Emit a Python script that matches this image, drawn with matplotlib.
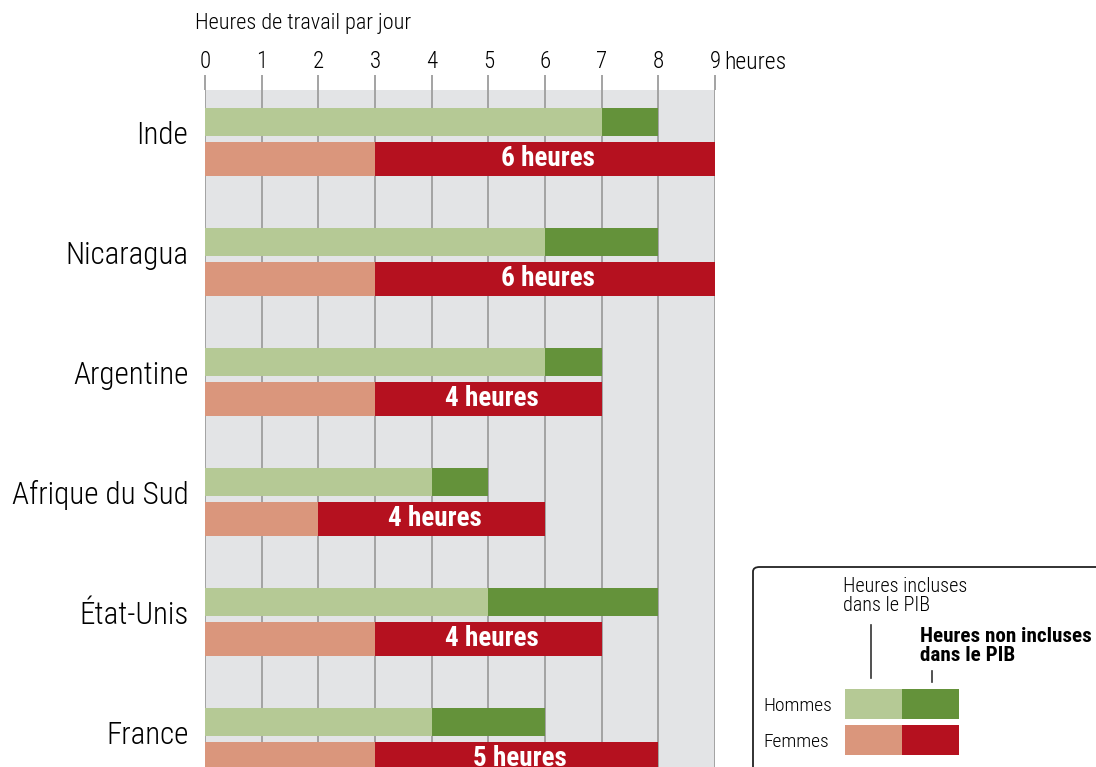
import matplotlib
matplotlib.use("Agg")
import matplotlib.pyplot as plt
from matplotlib import font_manager as fm
from matplotlib.patches import FancyBboxPatch, Rectangle
from matplotlib.lines import Line2D
import numpy as np

## ==> PICK A CONDENSED FONT
installed = set(f.name for f in fm.fontManager.ttflist)
narrow = [n for n in ["Roboto Condensed", "Archivo Narrow", "PT Sans Narrow", "Fira Sans Condensed",
                      "IBM Plex Sans Condensed", "Liberation Sans Narrow", "Open Sans Condensed",
                      "Pragati Narrow"] if n in installed]
plt.rcParams['font.family'] = narrow[:1] + ['DejaVu Sans']

## ==> DATA
countries = ["Inde", "Nicaragua", "Argentine", "Afrique du Sud", "État-Unis", "France"]
men_incl = [7, 6, 6, 4, 5, 4]
men_non = [1, 2, 1, 1, 3, 2]
women_incl = [3, 3, 3, 2, 3, 3]
women_non = [6, 6, 4, 4, 4, 5]
tick_vals = [0, 1, 2, 3, 4, 5, 6, 7, 8, 9]

## ==> COLORS
c_men_in = "#b5c995"
c_men_out = "#64923a"
c_wom_in = "#da967c"
c_wom_out = "#b5111f"
c_band = "#e3e4e6"
c_grid = "#a3a3a3"

W, H = 1096, 767
fig = plt.figure(figsize=(W / 100, H / 100), dpi=100)

def fx(x):
    return x / W

def fy(y):
    return 1 - y / H

## ==> MAIN AXES (x 0..9 -> px 205..715, band top at px 90)
ax = fig.add_axes([fx(205), 0, fx(715) - fx(205), fy(90)])
ax.set_xlim(0, 9)
ax.set_ylim(5.221, -0.421)
ax.set_facecolor(c_band)
for s in ax.spines.values():
    s.set_visible(False)

for v in tick_vals:
    ax.axvline(v, color=c_grid, lw=1.4, zorder=1)

y = np.arange(len(countries))
off = 0.154
ax.barh(y - off, men_incl, height=0.233, color=c_men_in, zorder=2)
ax.barh(y - off, men_non, left=men_incl, height=0.233, color=c_men_out, zorder=2)
ax.barh(y + off, women_incl, height=0.283, color=c_wom_in, zorder=2)
ax.barh(y + off, women_non, left=women_incl, height=0.283, color=c_wom_out, zorder=2)

for i in range(len(countries)):
    ax.text(women_incl[i] + women_non[i] / 2 + 0.06, y[i] + off, f"{women_non[i]} heures",
            color="white", fontsize=19.5, fontweight="bold", ha="center", va="center", zorder=3)

ax.set_yticks(y - 0.07)
ax.set_yticklabels(countries, fontsize=22.3, fontweight="light")
ax.tick_params(axis="y", length=0, pad=12)

ax.xaxis.tick_top()
ax.set_xticks(tick_vals)
ax.set_xticklabels([str(v) for v in tick_vals], fontsize=16.5, fontweight="light")
ax.tick_params(axis="x", direction="out", length=11, width=1.4, color=c_grid, pad=1)
ax.annotate("heures", xy=(9, 1), xycoords=("data", "axes fraction"),
            xytext=(7, 11.8), textcoords="offset points", fontsize=17, fontweight="light",
            ha="left", va="bottom")

fig.text(fx(195), fy(23), "Heures de travail par jour", fontsize=16, fontweight="light",
         ha="left", va="center")

## ==> LEGEND
box = FancyBboxPatch((fx(753), fy(790)), fx(400), fy(567) - fy(790),
                     boxstyle="round,pad=0,rounding_size=0.006", transform=fig.transFigure,
                     facecolor="white", edgecolor="#222222", lw=1.3, zorder=5)
fig.patches.append(box)

sw_w, sw_h = 57, 30
for row, (c1, c2, lab) in enumerate([(c_men_in, c_men_out, "Hommes"), (c_wom_in, c_wom_out, "Femmes")]):
    top = 689 + row * 36
    fig.patches.append(Rectangle((fx(845), fy(top + sw_h)), fx(sw_w), fy(top) - fy(top + sw_h),
                                 transform=fig.transFigure, facecolor=c1, edgecolor="none", zorder=6))
    fig.patches.append(Rectangle((fx(845 + sw_w), fy(top + sw_h)), fx(sw_w), fy(top) - fy(top + sw_h),
                                 transform=fig.transFigure, facecolor=c2, edgecolor="none", zorder=6))
    fig.text(fx(763), fy(top + sw_h / 2 + 2), lab, fontsize=14, fontweight="light",
             ha="left", va="center", zorder=7)

fig.text(fx(843), fy(596), "Heures incluses\ndans le PIB", fontsize=14.5, fontweight="light",
         ha="left", va="center", linespacing=0.95, zorder=7)
fig.text(fx(920), fy(646), "Heures non incluses\ndans le PIB", fontsize=15.2, fontweight="bold",
         ha="left", va="center", linespacing=0.95, zorder=7)
fig.lines.append(Line2D([fx(871), fx(871)], [fy(625), fy(678)], transform=fig.transFigure,
                        color="#333333", lw=1.2, zorder=7))
fig.lines.append(Line2D([fx(932), fx(932)], [fy(671), fy(682)], transform=fig.transFigure,
                        color="#333333", lw=1.2, zorder=7))

fig.savefig("out.png", dpi=100)
